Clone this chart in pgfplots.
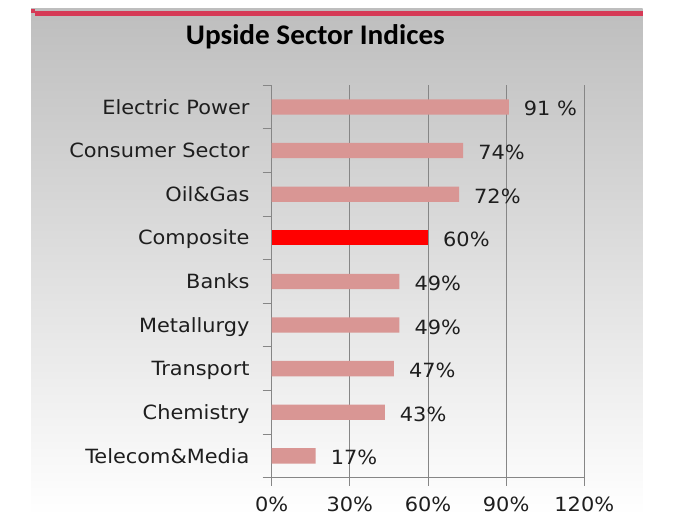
\documentclass[border=0pt]{standalone}
\usepackage{fontspec}
\setmainfont{DejaVu Sans}[FakeStretch=1.065]
\newfontfamily\titlefont{Carlito}[FakeStretch=1.03]
\usepackage{pgfplots}
\pgfplotsset{compat=1.18}
\definecolor{barpink}{RGB}{217,150,148}
\definecolor{topred}{RGB}{214,58,86}
\definecolor{gridgray}{RGB}{134,134,134}
\definecolor{txt}{RGB}{30,30,30}
\begin{document}
\begin{tikzpicture}
\path[use as bounding box] (0pt,0pt) rectangle (674pt,515pt);
\shade[top color={rgb,255:red,190;green,190;blue,190}, bottom color=white] (31pt,0pt) rectangle (642.7pt,506pt);
\fill[topred] (35pt,499pt) rectangle (642.7pt,504pt);
\fill[topred] (31pt,502pt) rectangle (35pt,506pt);
\node[font=\titlefont\bfseries\fontsize{28.4}{32}\selectfont, anchor=base, inner sep=0pt] at (315.4pt,470.7pt) {Upside Sector Indices};
\begin{axis}[
  at={(271.7pt,37.3pt)}, anchor=south west,
  scale only axis, width=312.6pt, height=392.6pt,
  xbar, bar width=15.3pt,
  xmin=0, xmax=120, ymin=-0.5, ymax=8.5,
  axis x line*=bottom, axis y line*=left,
  axis line style={gridgray, line width=0.9pt},
  xtick={0,30,60,90,120},
  xticklabels={0\%,30\%,60\%,90\%,120\%},
  ytick={0,1,2,3,4,5,6,7,8},
  yticklabels={Telecom\&Media,Chemistry,Transport,Metallurgy,Banks,Composite,Oil\&Gas,Consumer Sector,Electric Power},
  minor ytick={-0.5,0.5,1.5,2.5,3.5,4.5,5.5,6.5,7.5,8.5},
  tick align=outside, major tick length=8pt, minor tick length=9pt,
  tick style={gridgray, line width=0.9pt},
  major y tick style={draw=none},
  xmajorgrids, grid style={gridgray, line width=0.9pt},
  ticklabel style={font=\fontsize{19.6}{23}\selectfont, text=txt, inner sep=0pt},
  xticklabel style={anchor=base, yshift=-25.5pt},
  yticklabel style={anchor=base east, xshift=-14pt, yshift=-7.2pt},
  nodes near coords={\pgfplotspointmeta},
  point meta=explicit symbolic,
  nodes near coords style={font=\fontsize{19.6}{23}\selectfont, text=txt, anchor=base west, inner sep=0pt, xshift=15pt, yshift=-9pt},
]
\addplot[fill=barpink, draw=none, bar shift=0pt] coordinates {
  (16.9,0) [17\%]
  (43.4,1) [43\%]
  (46.9,2) [47\%]
  (49.0,3) [49\%]
  (49.0,4) [49\%]
  (71.9,6) [72\%]
  (73.5,7) [74\%]
  (91.0,8) [91 \%]
};
\addplot[fill=red, draw=none, bar shift=0pt] coordinates {
  (60,5) [60\%]
};
\end{axis}
\end{tikzpicture}
\end{document}
